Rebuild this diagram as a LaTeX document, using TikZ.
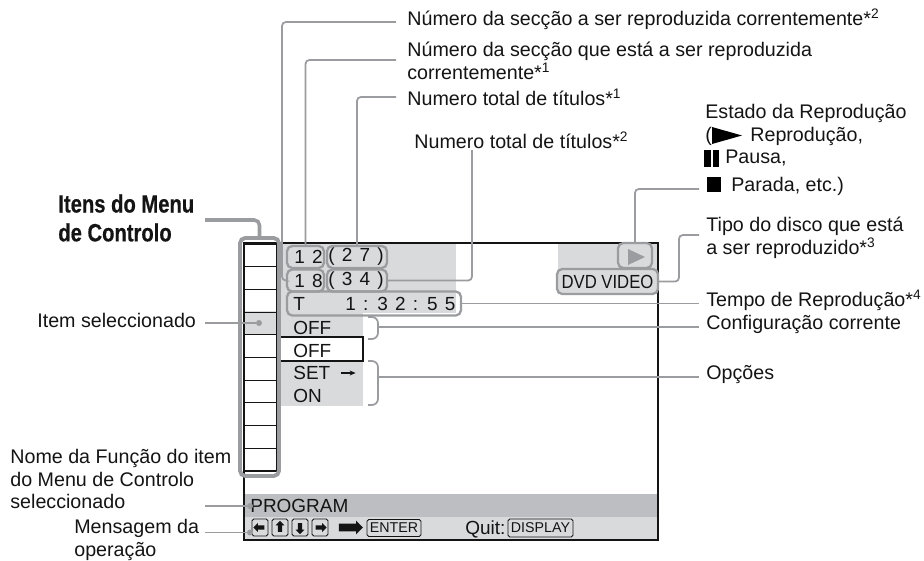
\documentclass[tikz,border=0pt]{standalone}
\usepackage{fontspec}
\setmainfont{Liberation Sans}
\newfontfamily\headfont[FakeStretch=0.81,BoldFeatures={FakeBold=0.5}]{Liberation Sans}
\newfontfamily\narrowfont[FakeStretch=0.88]{Liberation Sans}
\usetikzlibrary{arrows.meta,shapes.arrows}
\definecolor{leadergrey}{RGB}{155,156,160}
\definecolor{panelgrey}{RGB}{217,218,220}
\definecolor{bandgrey}{RGB}{189,190,193}
\definecolor{inkblack}{RGB}{20,20,20}
\tikzset{
  base/.style={inner sep=0pt, text=inkblack},
  lbl/.style={base, anchor=west, align=left, font=\fontsize{11.2}{13}\selectfont},
  head/.style={base, anchor=west, align=left, font=\headfont\bfseries\fontsize{14.2}{16.4}\selectfont},
  scr/.style={base, anchor=west, font=\fontsize{10.8}{12}\selectfont},
  spaced/.style={scr, execute at begin node={\spaceskip=0.38em\relax}},
  pill/.style 2 args={base, rectangle, rounded corners=3pt, draw=leadergrey, line width=1.3pt, minimum width=#1*0.02cm, minimum height=#2*0.02cm},
  keybox/.style 2 args={base, rectangle, rounded corners=1pt, draw=inkblack, line width=0.5pt, minimum width=#1*0.02cm, minimum height=#2*0.02cm, font=\fontsize{8.1}{10}\selectfont},
  leader/.style={draw=leadergrey, line width=1pt, rounded corners=2.2pt},
  leaderb/.style={draw=leadergrey, line width=2pt, rounded corners=3pt},
  bracket/.style={draw=leadergrey, line width=1pt, rounded corners=3.5pt},
  dotend/.style={circle, fill=leadergrey, inner sep=0pt, minimum size=6*0.02cm},
  keyarrow/.style={single arrow, fill=inkblack, inner xsep=0pt, inner ysep=1pt, single arrow head extend=1.3pt, minimum height=11*0.02cm, single arrow tip angle=90},
  cellline/.style={draw=inkblack, line width=0.6pt},
}
\begin{document}
\begin{tikzpicture}[x=0.02cm,y=-0.02cm]
  \useasboundingbox (0,0) rectangle (924,561);
  \fill[panelgrey] (281,244) rectangle (456,313);
  \fill[panelgrey] (281,313) rectangle (363,337);
  \fill[panelgrey] (281,361) rectangle (363,406);
  \fill[panelgrey] (244,311) rectangle (277,335);
  \fill[panelgrey] (558,244) rectangle (657,294);
  \fill[bandgrey] (245,494) rectangle (657,517);
  \fill[panelgrey] (245,517) rectangle (657,540);
  \draw[cellline] (281,337) -- (363,337) -- (363,361) -- (281,361);
  \draw[inkblack,line width=0.9pt] (244,243) rectangle (658,540);
  \draw[cellline] (277,244) -- (277,471);
  \foreach \y in {244,266.7,289.4,312.1,334.8,357.5,380.2,402.9,425.6,448.3,471}{\draw[cellline] (244,\y) -- (277,\y);}
  \node[pill={39}{238},line width=2.2pt] (menucol) at (259.5,357) {};
  \node[pill={37}{22}] (p12) at (305.5,257) {};
  \node[pill={37}{22}] (p18) at (305.5,280.5) {};
  \node[pill={60}{22}] (p27) at (357,257) {};
  \node[pill={60}{22}] (p34) at (357,280.5) {};
  \node[pill={174}{24}] (ptime) at (374,303.5) {};
  \node[pill={34}{25}] (pplay) at (635,255.5) {};
  \node[pill={101}{25}] (pdvd) at (607.5,281.5) {};
  \node[spaced] (t12) at (294,257) {1 2};
  \node[spaced] (t18) at (294,280.5) {1 8};
  \node[spaced] (t27) at (328,257) {( 2 7 )};
  \node[spaced] (t34) at (328,280.5) {( 3 4 )};
  \node[scr] (tT) at (293,304) {T};
  \node[spaced] (ttime) at (345,304) {1 : 3 2 : 5 5};
  \node[scr] (toff) at (293,328) {OFF};
  \node[scr] (toffb) at (293,351) {OFF};
  \node[scr] (tset) at (293,373) {SET};
  \node[scr] (ton) at (293,396) {ON};
  \draw[draw=inkblack,line width=0.6pt,-{Stealth[length=6*0.02cm,width=5*0.02cm]}] (tset.east) ++(10,0) -- ++(15,0);
  \node[scr] (tprog) at (250,506) {PROGRAM};
  \node[base, anchor=center, font=\narrowfont\fontsize{10.8}{12}\selectfont] (tdvd) at (607.5,281.5) {DVD VIDEO};
  \fill[leadergrey] (628,249) -- (645,257) -- (628,265) -- cycle;
  \foreach \n/\x/\a in {kl/260/180,ku/280/90,kd/300/-90,kr/320/0}{
    \node[keybox={16}{17}] (\n) at (\x,527.5) {};
    \node[keyarrow, rotate=\a] at (\n) {};
  }
  \node[single arrow, fill=inkblack, inner xsep=0pt, inner ysep=2pt, minimum height=24*0.02cm, single arrow head extend=1.7pt, single arrow tip angle=90] (bigarrow) at (349,527.5) {};
  \node[keybox={54}{17}] (kenter) at (394,528) {ENTER};
  \node[scr] (tquit) at (465,529) {Quit:};
  \node[keybox={65}{18}] (kdisplay) at (540.5,528) {DISPLAY};
  \node[dotend] (itemdot) at (259,323) {};
  \node[dotend] (progdot) at (250,506) {};
  \node[dotend] (msgdot) at (250,532.5) {};
  \node[lbl] (secb) at (407,19) {Número da secção a ser reproduzida correntemente*\textsuperscript{2}};
  \node[lbl] (seca) at (407,61) {Número da secção que está a ser reproduzida\\correntemente*\textsuperscript{1}};
  \node[lbl] (tita) at (407,97) {Numero total de títulos*\textsuperscript{1}};
  \node[lbl] (titb) at (414,140) {Numero total de títulos*\textsuperscript{2}};
  \node[lbl] (est) at (705,113) {Estado da Reprodução};
  \node[lbl] (estb) at (705,136) {(};
  \node[lbl] (estplay) at (750,136) {Reprodução,};
  \fill[black] (712,127) -- (742,135.5) -- (712,144) -- cycle;
  \fill[black] (704,150) rectangle (711,167);
  \fill[black] (713,150) rectangle (719,167);
  \node[lbl] (estpause) at (725,158) {Pausa,};
  \fill[black] (707,177) rectangle (721,192);
  \node[lbl] (eststop) at (731,186) {Parada, etc.)};
  \node[lbl] (tipo) at (706,238) {Tipo do disco que está\\a ser reproduzido*\textsuperscript{3}};
  \node[lbl] (tempo) at (706,300) {Tempo de Reprodução*\textsuperscript{4}};
  \node[lbl] (conf) at (706,324) {Configuração corrente};
  \node[lbl] (opc) at (706,375) {Opções};
  \node[head] (itens) at (58,218) {Itens do Menu\\de Controlo};
  \node[lbl] (item) at (37,320) {Item seleccionado};
  \node[lbl] (nome) at (10,479) {Nome da Função do item\\do Menu de Controlo\\seleccionado};
  \node[lbl] (msg) at (74,540) {Mensagem da\\operação};
  \coordinate (esecb) at (396,22);
  \coordinate (kseb) at (282,280.5);
  \coordinate (eseca) at (396,60);
  \coordinate (etita) at (396,97);
  \coordinate (etitb) at (472,150);
  \coordinate (etempo) at (699,303.5);
  \coordinate (econf) at (699,327);
  \coordinate (bconf) at (378,327);
  \coordinate (eopc) at (699,377);
  \coordinate (bopc) at (378,377);
  \coordinate (eplay) at (699,189);
  \coordinate (kdvd) at (679,235);
  \coordinate (edvd) at (699,235);
  \coordinate (eitens) at (205,220);
  \coordinate (eitem) at (205,323);
  \coordinate (eprog) at (205,506);
  \coordinate (emsg) at (205,532.5);
  \draw[leader] (esecb) -| (kseb) -- (p18.west);
  \draw[leader] (eseca) -| (p12.north);
  \draw[leader] (etita) -| (p27.north);
  \draw[leader] (p34.east) -| (etitb);
  \draw[leader] (ptime.east) -- (etempo);
  \draw[leader] (bconf) -- (econf);
  \draw[leader] (bopc) -- (eopc);
  \draw[bracket] (368,317) -- (378,317) -- (378,339) -- (368,339);
  \draw[bracket] (368,361) -- (378,361) -- (378,405) -- (368,405);
  \draw[leader] (pplay.north) |- (eplay);
  \draw[leader] (pdvd.east) -| (kdvd) -- (edvd);
  \draw[leaderb] (eitens) -| (menucol.north);
  \foreach \a/\b in {eitem/itemdot,eprog/progdot,emsg/msgdot}{\draw[leader] (\a) -- (\b);}
\end{tikzpicture}
\end{document}
